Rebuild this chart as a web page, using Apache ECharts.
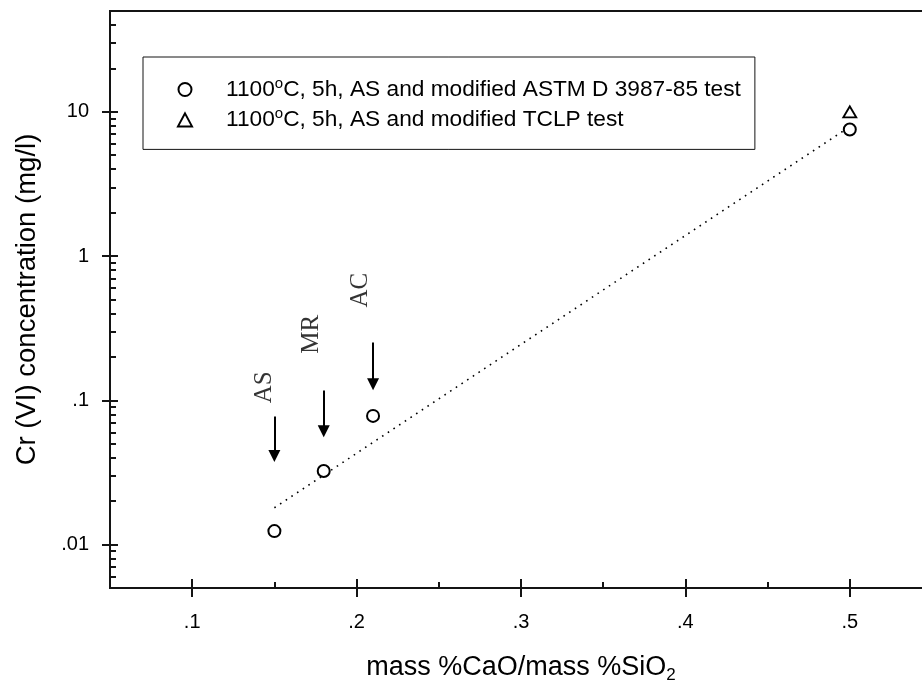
<!DOCTYPE html>
<html>
<head>
<meta charset="utf-8">
<script src="https://cdn.jsdelivr.net/npm/echarts@6/dist/echarts.min.js"></script>
<style>
  html, body { margin: 0; padding: 0; background: #fff; }
  #chart { width: 922px; height: 685px; }
</style>
</head>
<body>
<div id="chart"></div>
<script>
// Leached Cr(VI) versus slag basicity (mass %CaO / mass %SiO2)
const astmName = '1100°C, 5h, AS and modified ASTM D 3987-85 test';
const tclpName = '1100°C, 5h, AS and modified TCLP test';

const astmX = [0.15, 0.18, 0.21, 0.5];
const astmY = [0.0124, 0.0324, 0.078, 7.55];

const tclpX = [0.5];
const tclpY = [10];

// trend line end points
const fitX = [0.15, 0.5];
const fitY = [0.018, 7.9];

// arrows marking the three samples
const markNames = ['AS', 'MR', 'AC'];
const markX = [0.15, 0.18, 0.21];
const arrowTop = [0.0774, 0.117, 0.252];
const arrowTip = [0.0411, 0.061, 0.129];
const markLabelX = [0.1437, 0.1727, 0.2021];
const markLabelY = [0.123, 0.287, 0.58];

// axis ticks
const xTickValues = [0.1, 0.2, 0.3, 0.4, 0.5];
const xTickLabels = ['.1', '.2', '.3', '.4', '.5'];
const xMinorValues = [0.15, 0.25, 0.35, 0.45];
const yTickValues = [0.01, 0.1, 1, 10];
const yTickLabels = ['.01', '.1', '1', '10'];
const yMinorValues = [
  0.006, 0.007, 0.008, 0.009,
  0.02, 0.03, 0.04, 0.05, 0.06, 0.07, 0.08, 0.09,
  0.2, 0.3, 0.4, 0.5, 0.6, 0.7, 0.8, 0.9,
  2, 3, 4, 5, 6, 7, 8, 9,
  20, 30, 40
];

const FONT = 'Liberation Sans';
const INK = '#141414';

function pickLabel(values, labels) {
  return function (v) {
    for (let i = 0; i < values.length; i++) {
      if (Math.abs(v - values[i]) < 1e-9 * Math.max(1, Math.abs(values[i]))) return labels[i];
    }
    return '';
  };
}

const xBase = { type: 'value', min: 0.05, max: 0.55, position: 'bottom', splitLine: { show: false } };
const yBase = { type: 'log', logBase: 10, min: 0.005, max: 50, position: 'left', splitLine: { show: false } };

const chart = echarts.init(document.getElementById('chart'), null, { renderer: 'canvas' });

chart.setOption({
  animation: false,
  backgroundColor: '#fff',
  grid: {
    left: 110, top: 11, width: 822, bottom: 97,
    outerBoundsMode: 'none',
    containLabel: false,
    show: true, borderColor: INK, borderWidth: 2, backgroundColor: 'transparent'
  },
  xAxis: [
    Object.assign({}, xBase, {
      name: '{t|mass %CaO/mass %SiO}{s|2}',
      nameLocation: 'middle',
      nameGap: 64,
      nameTextStyle: {
        color: '#000', fontFamily: FONT,
        rich: {
          t: { fontFamily: FONT, fontSize: 27, lineHeight: 32, color: '#000' },
          s: { fontFamily: FONT, fontSize: 17, lineHeight: 17, verticalAlign: 'bottom', color: '#000' }
        }
      },
      axisLine: { show: true, lineStyle: { color: INK, width: 2 } },
      axisTick: { show: true, inside: false, length: 9, customValues: xTickValues, lineStyle: { color: INK, width: 2 } },
      axisLabel: {
        show: true, customValues: xTickValues, margin: 24,
        formatter: pickLabel(xTickValues, xTickLabels),
        fontFamily: FONT, fontSize: 20, color: '#000'
      }
    }),
    Object.assign({}, xBase, {
      axisLine: { show: false },
      axisTick: { show: true, inside: true, length: 9, customValues: xTickValues, lineStyle: { color: INK, width: 2 } },
      axisLabel: { show: false }
    }),
    Object.assign({}, xBase, {
      axisLine: { show: false },
      axisTick: { show: true, inside: true, length: 6, customValues: xMinorValues, lineStyle: { color: INK, width: 2 } },
      axisLabel: { show: false }
    })
  ],
  yAxis: [
    Object.assign({}, yBase, {
      name: 'Cr (VI) concentration (mg/l)',
      nameLocation: 'middle',
      nameGap: 69,
      nameRotate: 90,
      nameTextStyle: { fontFamily: FONT, fontSize: 27.5, color: '#000' },
      axisLine: { show: true, lineStyle: { color: INK, width: 2 } },
      axisTick: { show: true, inside: false, length: 8, customValues: yTickValues, lineStyle: { color: INK, width: 2 } },
      axisLabel: {
        show: true, customValues: yTickValues, margin: 21,
        formatter: pickLabel(yTickValues, yTickLabels),
        fontFamily: FONT, fontSize: 20, color: '#000'
      }
    }),
    Object.assign({}, yBase, {
      axisLine: { show: false },
      axisTick: { show: true, inside: true, length: 8, customValues: yTickValues, lineStyle: { color: INK, width: 2 } },
      axisLabel: { show: false }
    }),
    Object.assign({}, yBase, {
      axisLine: { show: false },
      axisTick: { show: true, inside: true, length: 6, customValues: yMinorValues, lineStyle: { color: INK, width: 2 } },
      axisLabel: { show: false }
    })
  ],
  legend: {
    data: [astmName, tclpName],
    orient: 'vertical',
    left: 143, top: 57,
    padding: [19, 14, 16, 34],
    itemWidth: 14, itemHeight: 13, itemGap: 3.4,
    symbolKeepAspect: true,
    borderColor: INK, borderWidth: 1,
    backgroundColor: '#fff',
    selectedMode: false,
    formatter: function (name) { return name.replace('°', '{sup|o}'); },
    textStyle: {
      fontFamily: FONT, fontSize: 22.7, lineHeight: 27, color: '#000',
      padding: [0, 0, 0, 29],
      rich: {
        sup: { fontFamily: FONT, fontSize: 15, lineHeight: 14, verticalAlign: 'top', color: '#000' }
      }
    }
  },
  series: [
    {
      name: 'trend',
      type: 'line',
      xAxisIndex: 0, yAxisIndex: 0,
      data: fitX.map((x, i) => [x, fitY[i]]),
      showSymbol: false,
      symbol: 'none',
      lineStyle: { color: '#000', width: 1.6, type: [1.6, 5.2] },
      silent: true,
      z: 2
    },
    {
      name: 'arrows',
      type: 'scatter',
      xAxisIndex: 0, yAxisIndex: 0,
      data: [],
      markLine: {
        silent: true,
        symbol: ['none', 'triangle'],
        symbolSize: 12,
        label: { show: false },
        lineStyle: { color: '#000', width: 2, type: 'solid' },
        emphasis: { disabled: true },
        data: markX.map((x, i) => [
          { coord: [x, arrowTop[i]] },
          { coord: [x, arrowTip[i]] }
        ])
      },
      z: 3
    },
    {
      name: 'labels',
      type: 'scatter',
      xAxisIndex: 0, yAxisIndex: 0,
      data: markLabelX.map((x, i) => [x, markLabelY[i], markNames[i]]),
      symbolSize: 1,
      itemStyle: { color: 'rgba(0,0,0,0)' },
      silent: true,
      label: {
        show: true,
        position: 'inside',
        rotate: 90,
        formatter: function (p) { return p.data[2]; },
        fontFamily: 'Liberation Serif',
        fontSize: 25,
        color: '#000'
      },
      z: 3
    },
    {
      name: astmName,
      type: 'scatter',
      xAxisIndex: 0, yAxisIndex: 0,
      data: astmX.map((x, i) => [x, astmY[i]]),
      symbol: 'circle',
      symbolSize: 12,
      itemStyle: { color: '#fff', borderColor: '#000', borderWidth: 2, opacity: 1 },
      z: 5
    },
    {
      name: tclpName,
      type: 'scatter',
      xAxisIndex: 0, yAxisIndex: 0,
      data: tclpX.map((x, i) => [x, tclpY[i]]),
      symbol: 'triangle',
      symbolSize: [13, 11],
      itemStyle: { color: '#fff', borderColor: '#000', borderWidth: 1.8, opacity: 1 },
      z: 5
    }
  ]
});
</script>
</body>
</html>
